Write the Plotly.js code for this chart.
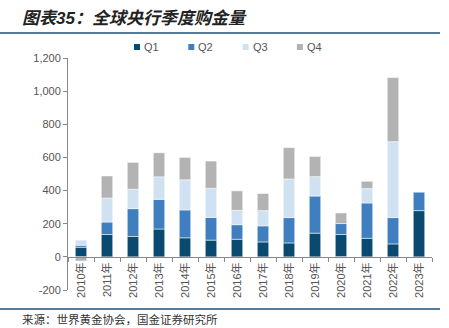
<!DOCTYPE html>
<html><head><meta charset="utf-8">
<script src="https://cdn.plot.ly/plotly-3.0.1.min.js"></script>
<style>html,body{margin:0;padding:0;background:#fff}#c{width:449px;height:328px}</style>
</head><body><div id="c"></div>
<script>
const years = ['2010年','2011年','2012年','2013年','2014年','2015年','2016年','2017年','2018年','2019年','2020年','2021年','2022年','2023年'];
const q1 = [58, 135, 123, 168, 115, 101, 106, 90, 84, 143, 135, 112, 78, 279];
const q2 = [12, 75, 168, 179, 168, 137, 88, 97, 153, 224, 66, 213, 159, 111];
const q3 = [31, 145, 117, 136, 182, 176, 87, 92, 233, 117, -10, 87, 458, null];
const q4 = [-25, 133, 162, 145, 135, 164, 117, 103, 189, 122, 64, 44, 387, null];
const seriesNames = ['Q1','Q2','Q3','Q4'];
const colors = ['#0b4a70','#3f7fbf','#d0e2f2','#b3b3b3'];
const yTicks = [-200,0,200,400,600,800,1000,1200];

const L = 68, R = 432, T = 58, B = 290;
const px = x => (x - L) / (R - L);
const py = y => (B - y) / (B - T);

const data = [q1,q2,q3,q4].map((v,i)=>({
  type:'bar', x:years, y:v, name:seriesNames[i],
  marker:{color:colors[i], line:{color:'#ffffff', width:0.5}},
  hoverinfo:'skip'
}));

const annotations = [
  {xref:'paper', yref:'paper', x:px(20), y:py(18), xanchor:'left', yanchor:'middle',
   text:'图表35：全球央行季度购金量', showarrow:false,
   font:{family:'Liberation Sans, Noto Sans CJK SC, sans-serif', size:17, color:'#222', style:'italic', weight:'bold'}},
  {xref:'paper', yref:'paper', x:px(20), y:py(319), xanchor:'left', yanchor:'middle',
   text:'来源：世界黄金协会，国金证券研究所', showarrow:false,
   font:{family:'Noto Sans CJK SC, sans-serif', size:11.5, color:'#333'}}
];
const shapes = [
  {type:'line', xref:'paper', yref:'paper', x0:px(0), x1:px(440), y0:py(33), y1:py(33), line:{color:'#1f4e79', width:1.5}},
  {type:'line', xref:'paper', yref:'paper', x0:px(0), x1:px(440), y0:py(309), y1:py(309), line:{color:'#1f4e79', width:1.5}}
];
seriesNames.forEach((n,i)=>{
  const x0 = 134 + i*54.3;
  shapes.push({type:'rect', xref:'paper', yref:'paper', x0:px(x0), x1:px(x0+6), y0:py(44), y1:py(50),
    fillcolor:colors[i], line:{width:0}});
  annotations.push({xref:'paper', yref:'paper', x:px(x0+8), y:py(47), xanchor:'left', yanchor:'middle',
    text:n, showarrow:false, font:{family:'Liberation Sans, Arial, sans-serif', size:11, color:'#555'}});
});

const layout = {
  width:449, height:328,
  margin:{l:L, r:449-R, t:T, b:328-B, pad:0},
  paper_bgcolor:'#fff', plot_bgcolor:'#fff',
  barmode:'relative', bargap:0.56,
  showlegend:false,
  xaxis:{type:'category', range:[-0.5,13.5], anchor:'free', position:py(257),
    showline:true, linecolor:'#888', linewidth:1, ticks:'outside', tickson:'boundaries',
    ticklen:4, tickcolor:'#888', tickangle:-90, showgrid:false, zeroline:false,
    tickfont:{family:'Liberation Sans, Noto Sans CJK SC, sans-serif', size:11, color:'#555'}},
  yaxis:{range:[-200,1200], tickvals:yTicks, ticktext:yTicks.map(v=>v.toLocaleString('en-US')),
    showline:true, linecolor:'#888',
    linewidth:1, ticks:'outside', ticklen:4, tickcolor:'#888', showgrid:false, zeroline:false,
    tickfont:{family:'Liberation Sans, Arial, sans-serif', size:11, color:'#555'}},
  annotations:annotations,
  shapes:shapes
};
Plotly.newPlot('c', data, layout, {staticPlot:true, displayModeBar:false});
</script>
</body></html>
